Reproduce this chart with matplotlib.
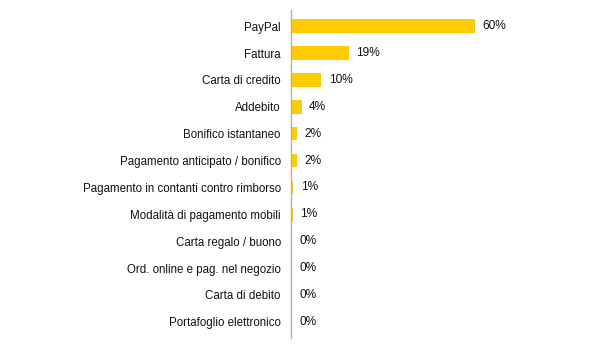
import matplotlib
matplotlib.use("Agg")
import matplotlib.pyplot as plt

categories = ["PayPal", "Fattura", "Carta di credito", "Addebito", "Bonifico istantaneo",
              "Pagamento anticipato / bonifico", "Pagamento in contanti contro rimborso",
              "Modalità di pagamento mobili", "Carta regalo / buono",
              "Ord. online e pag. nel negozio", "Carta di debito", "Portafoglio elettronico"]
values = [60, 19, 10, 3.6, 2, 2, 0.8, 0.7, 0.35, 0.35, 0.35, 0.35]
labels = ["60%", "19%", "10%", "4%", "2%", "2%", "1%", "1%", "0%", "0%", "0%", "0%"]

plt.rcParams['font.family'] = ['Liberation Sans', 'DejaVu Sans']
fig = plt.figure(figsize=(6, 3.52), dpi=100)
ax = fig.add_axes([290.5/600, (352-338)/352, 300/600, 328/352])
y = list(range(len(categories)))
ax.barh(y, values, height=0.5, color="#FFCC00", left=0)
ax.set_xlim(0, 300/3.07)
ax.set_ylim(11.6, -0.6)
for yi, v, lab in zip(y, values, labels):
    ax.annotate(lab, (v, yi), xytext=(5.5, 0), textcoords="offset points",
                va="center", ha="left", fontsize=8.6, color="#111111")
ax.set_yticks(y)
ax.set_yticklabels(categories, fontsize=8.3, color="#111111")
ax.tick_params(axis="y", length=0, pad=7)
ax.set_xticks([])
for s in ["top", "right", "bottom"]:
    ax.spines[s].set_visible(False)
ax.spines["left"].set_color("#b0b0b0")
ax.spines["left"].set_linewidth(1)
fig.savefig("out.png", dpi=100)
